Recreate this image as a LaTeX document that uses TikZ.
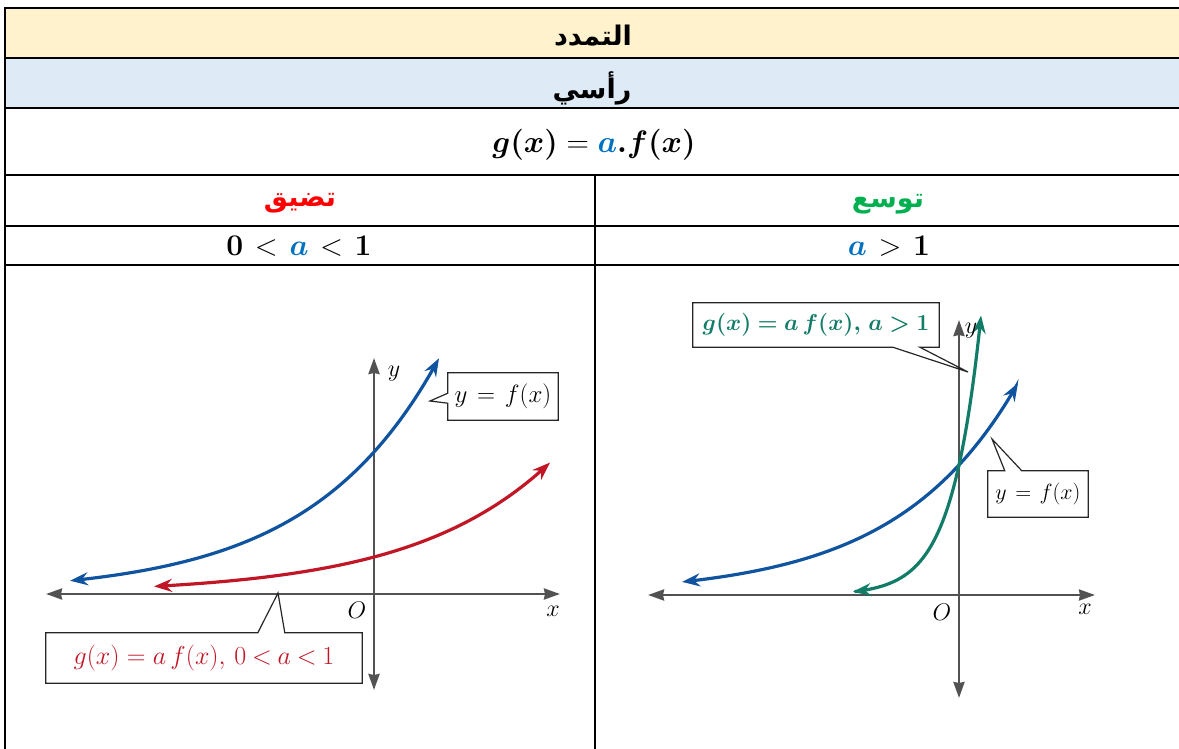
\RequirePackage{fix-cm}
\documentclass[tikz,border=0pt]{standalone}
\usepackage{fontspec}
\usepackage{bm}
\usetikzlibrary{arrows.meta,calc}
\newfontfamily\arabicfont[Script=Arabic]{DejaVu Sans}
\TeXXeTstate=1
\definecolor{headyellow}{HTML}{FFF2CC}
\definecolor{headblue}{HTML}{DEEAF6}
\definecolor{ablue}{HTML}{0070C0}
\definecolor{shrinkred}{HTML}{FF0000}
\definecolor{stretchgreen}{HTML}{00B050}
\definecolor{fblue}{RGB}{16,84,160}
\definecolor{gred}{RGB}{192,22,38}
\definecolor{gteal}{RGB}{18,124,104}
\definecolor{axisgray}{RGB}{82,82,82}

\begin{document}
\begin{tikzpicture}[
  x=1pt,y=-1pt,
  rule/.style={line width=2pt},
  cell/.style={inner sep=0pt,anchor=center},
  artext/.style={cell,font=\arabicfont\bfseries\fontsize{27}{32}\selectfont},
  mathtext/.style={cell,font=\fontsize{31}{36}\selectfont},
  axis/.style={draw=axisgray,line width=2.5pt,
    {Stealth[length=16pt,width=11pt,inset=1pt]}-{Stealth[length=16pt,width=11pt,inset=1pt]}},
  curve/.style={line width=3.2pt,smooth,
    {Stealth[length=18pt,width=13pt,inset=6pt]}-{Stealth[length=18pt,width=13pt,inset=6pt]}},
  lbl/.style={inner sep=0pt,font=\fontsize{24}{28}\selectfont},
  callout/.style={draw=black!85,line width=1.2pt,line join=miter}
]
  \useasboundingbox (0,0) rectangle (1179,749);

  % table
  \fill[headyellow] (5,8) rectangle (1179,58);
  \fill[headblue] (5,58) rectangle (1179,108);
  \foreach \yy in {8,58,108,175.5,226,265}
    \draw[rule] (4,\yy) -- (1179,\yy);
  \draw[rule] (5,7) -- (5,749);
  \draw[rule] (595,175.5) -- (595,749);

  \node[artext] (title) at (593,36) {\beginR التمدد\endR};
  \node[artext] (kind) at (592,88) {\beginR رأسي\endR};
  \node[mathtext] (rule) at (594,145)
    {$\bm{g(x)}=\bm{{\color{ablue}a}.f(x)}$};
  \node[artext,text=shrinkred] (shrink) at (300,203) {\beginR تضيق\endR};
  \node[artext,text=stretchgreen] (stretch) at (888,204) {\beginR توسع\endR};
  \node[mathtext,font=\fontsize{30}{34}\selectfont] (condL) at (299,246)
    {$\bm{0}\mkern2mu<\mkern2mu{\color{ablue}\bm{a}}\mkern2mu<\mkern2mu\bm{1}$};
  \node[mathtext,font=\fontsize{30}{34}\selectfont] (condR) at (889,246)
    {${\color{ablue}\bm{a}}\mkern2mu>\mkern2mu\bm{1}$};

  % left graph: 0 < a < 1
  \begin{scope}[shift={(374,594)},yscale=-1]
    \draw[axis] (-328,0) -- (186,0);
    \draw[axis] (0,-96) -- (0,236);
    \draw[curve,color=fblue]
      plot[domain=-304:65,samples=60] (\x,{142*exp(0.0078*\x)});
    \draw[curve,color=gred]
      plot[domain=-220:176,samples=60] (\x,{37*exp(0.0072*\x)});
  \end{scope}
  \node[lbl] (yL) at (394,374) {$y$};
  \node[lbl] (oL) at (357,610) {$O$};
  \node[lbl] (xL) at (553,611) {$x$};

  \node[lbl,font=\fontsize{25}{30}\selectfont,minimum width=110pt,minimum height=47pt]
    (fLeft) at (503,396.5) {$y\mkern2mu=\mkern2mu f(x)$};
  \coordinate (fLeftTip) at (430,401);
  \draw[callout] (fLeft.north west) -- (fLeft.north east) -- (fLeft.south east)
    -- (fLeft.south west) -- ([yshift=17pt]fLeft.south west) -- (fLeftTip)
    -- ([yshift=27pt]fLeft.south west) -- cycle;

  \node[lbl,font=\fontsize{26}{30}\selectfont,text=gred,minimum width=316pt,minimum height=50pt]
    (gLeft) at (204,658)
    {$g(x)=a\,f(x),\,0\mkern4mu{<}\mkern4mu a\mkern4mu{<}\mkern4mu1$};
  \coordinate (gLeftTip) at (278,593);
  \draw[callout] (gLeft.north west) -- ([xshift=212pt]gLeft.north west) -- (gLeftTip)
    -- ([xshift=239pt]gLeft.north west) -- (gLeft.north east)
    -- (gLeft.south east) -- (gLeft.south west) -- cycle;

  % right graph: a > 1
  \begin{scope}[shift={(959,595)},yscale=-1]
    \draw[axis] (-311,0) -- (136,0);
    \draw[axis] (0,-103) -- (0,275);
    \draw[curve,color=fblue]
      plot[domain=-277:59,samples=60] (\x,{130*exp(0.00829*\x)});
    \draw[curve,color=gteal]
      plot[domain=-106:22,samples=80] (\x,{130*exp(0.0348*\x)});
  \end{scope}
  \node[lbl] (yR) at (971,331) {$y$};
  \node[lbl] (oR) at (942,612) {$O$};
  \node[lbl] (xR) at (1085,609) {$x$};

  \node[lbl,font=\fontsize{23}{28}\selectfont,text=gteal,minimum width=246pt,minimum height=44pt]
    (gRight) at (816,325) {$\bm{g(x)=a\,f(x),\,a>1}$};
  \coordinate (gRightTip) at (968,372);
  \draw[callout] (gRight.north west) -- (gRight.north east) -- (gRight.south east)
    -- ([xshift=227pt]gRight.south west) -- (gRightTip)
    -- ([xshift=200pt]gRight.south west) -- (gRight.south west) -- cycle;

  \node[lbl,font=\fontsize{22}{26}\selectfont,minimum width=100pt,minimum height=46pt]
    (fRight) at (1038,494) {$y\mkern2mu=\mkern2mu f(x)$};
  \coordinate (fRightTip) at (992,439);
  \draw[callout] (fRight.north west) -- ([xshift=17pt]fRight.north west) -- (fRightTip)
    -- ([xshift=34pt]fRight.north west) -- (fRight.north east)
    -- (fRight.south east) -- (fRight.south west) -- cycle;
\end{tikzpicture}
\end{document}
